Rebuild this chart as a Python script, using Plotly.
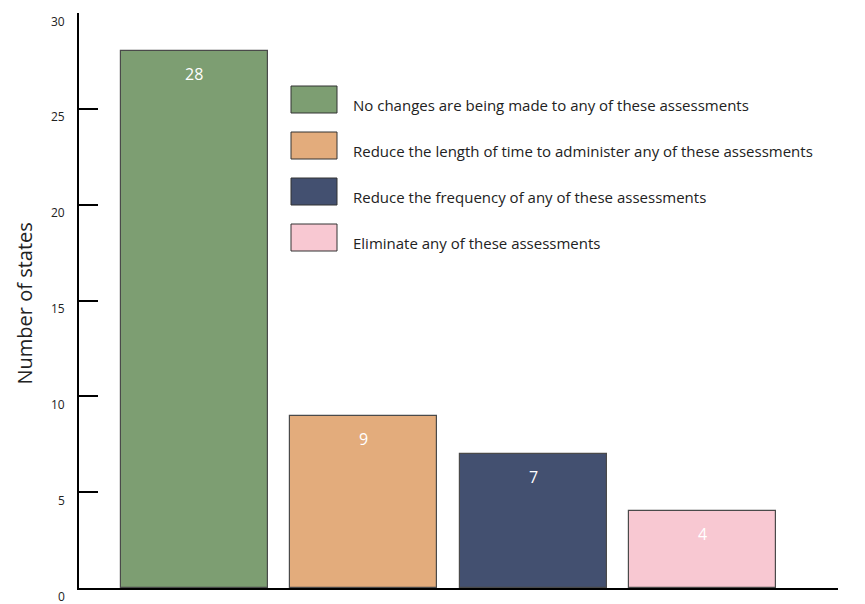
import plotly.graph_objects as go

# Survey responses: how states are changing their assessments
categories = [
    "No changes are being made to any of these assessments",
    "Reduce the length of time to administer any of these assessments",
    "Reduce the frequency of any of these assessments",
    "Eliminate any of these assessments",
]
counts = [28, 9, 7, 4]
colors = ["#7D9E72", "#E3AC7C", "#435070", "#F8C8D2"]
y_ticks = [0, 5, 10, 15, 20, 25, 30]

FONT = "Open Sans"
W, H = 865, 604
L, R, T, B = 79, 27, 13, 16
PW, PH = W - L - R, H - T - B


def px(x):
    return (x - L) / PW


def py(y):
    return (H - B - y) / PH


fig = go.Figure()
fig.add_trace(go.Bar(
    x=list(range(len(categories))),
    y=counts,
    marker=dict(color=colors, line=dict(color="#4a4a4a", width=1.2)),
    width=0.867,
    hoverinfo="skip",
    showlegend=False,
))

annotations = []
# value labels near the top of each bar
for i, v in enumerate(counts):
    annotations.append(dict(
        x=i, y=v, xref="x", yref="y", text=str(v), showarrow=False,
        yshift=-23, font=dict(family=FONT, size=16, color="white"),
    ))

# y tick labels, set slightly below their tick marks
for t in y_ticks:
    annotations.append(dict(
        x=0, y=t, xref="paper", yref="y", text=str(t), showarrow=False,
        xanchor="right", xshift=-12, yshift=-8,
        font=dict(family=FONT, size=12, color="#222"),
    ))

# axis title
annotations.append(dict(
    x=0, y=py(304), xref="paper", yref="paper", text="Number of states",
    showarrow=False, textangle=-90, xshift=-71,
    font=dict(family=FONT, size=20, color="#222"),
))

# custom legend with large swatches
shapes = []
sw_top = [86, 132, 178, 224]
for cat, col, top in zip(categories, colors, sw_top):
    shapes.append(dict(
        type="rect", xref="paper", yref="paper",
        x0=px(291), x1=px(337), y0=py(top + 27), y1=py(top),
        fillcolor=col, line=dict(color="#333", width=1),
    ))
    annotations.append(dict(
        x=px(353), y=py(top + 19), xref="paper", yref="paper", text=cat,
        showarrow=False, xanchor="left", yanchor="middle", xshift=-2,
        font=dict(family=FONT, size=15, color="#222"),
    ))

fig.update_layout(
    width=W, height=H,
    margin=dict(l=L, r=R, t=T, b=B),
    plot_bgcolor="white", paper_bgcolor="white",
    xaxis=dict(range=[-0.681, 3.797], showticklabels=False, ticks="",
               showgrid=False, zeroline=False, showline=True,
               linecolor="black", linewidth=1.5, fixedrange=True),
    yaxis=dict(range=[0, 30], tickvals=y_ticks, showticklabels=False,
               ticks="inside", ticklen=19, tickwidth=1.5, tickcolor="black",
               showgrid=False, zeroline=False, showline=True,
               linecolor="black", linewidth=1.5, fixedrange=True),
    annotations=annotations,
    shapes=shapes,
    bargap=0,
)

fig.write_html("out.html")
